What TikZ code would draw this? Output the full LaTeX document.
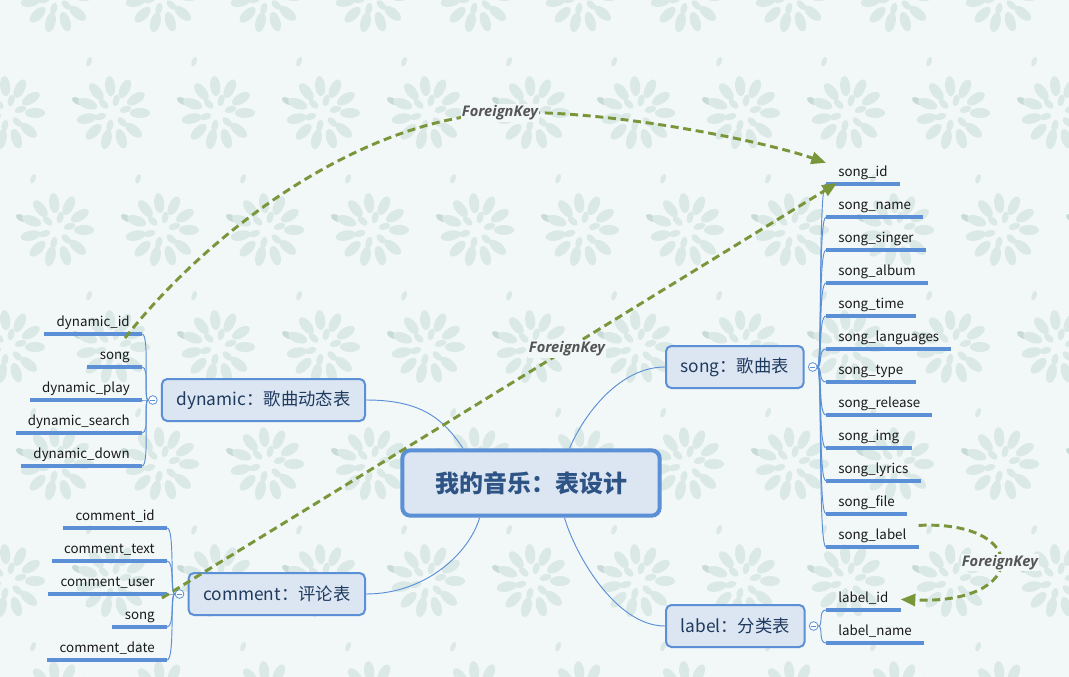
\documentclass[tikz,border=0pt]{standalone}
\usepackage{fontspec}
\setmainfont{Noto Sans CJK SC}
\newfontfamily\keyfont{Open Sans}
\usetikzlibrary{positioning,arrows.meta,calc}
\definecolor{bgcol}{HTML}{F2F7F7}
\definecolor{leaf}{HTML}{DAE8E6}
\definecolor{darkleaf}{HTML}{C9DBD8}
\definecolor{boxfill}{HTML}{DCE6F2}
\definecolor{boxline}{HTML}{5B8FD6}
\definecolor{boxtext}{HTML}{1F3A5F}
\definecolor{roottext}{HTML}{2E5486}
\definecolor{keygreen}{HTML}{7A963A}
\definecolor{keytext}{HTML}{555555}

\tikzset{
    flower/.pic={
        \foreach \a in {0,32,...,330} \fill[leaf, rotate=\a] (27,0) ellipse (10 and 5);
        \foreach \a in {16,76,...,330} \fill[leaf, rotate=\a] (13,0) ellipse (6 and 3.2);
        \fill[darkleaf, rotate=-30] (54,-45) ellipse (6 and 3);
        \fill[leaf, rotate=70] (40,-40) ellipse (5 and 2.5);
    }
}

\begin{document}
\begin{tikzpicture}[x=0.75pt,y=-0.75pt,
        root/.style={draw=boxline, line width=3pt, fill=boxfill, rounded corners=6pt,
            minimum width=193pt, minimum height=49pt, text=roottext,
            font=\fontsize{18}{21}\selectfont\bfseries},
        table/.style={draw=boxline, line width=1.5pt, fill=boxfill, rounded corners=4pt,
            minimum height=31.5pt, inner xsep=11pt, text=boxtext,
            font=\fontsize{13}{16}\selectfont},
        fold/.style={circle, draw=boxline, fill=white, line width=0.6pt, inner sep=0pt,
            minimum size=6.5pt, path picture={\draw[boxline, line width=0.5pt]
            ([xshift=-1.8pt]path picture bounding box.center) --
            ([xshift=1.8pt]path picture bounding box.center);}},
        field/.style={inner xsep=9pt, inner ysep=2.5pt, text height=7.5pt, text depth=3pt,
            text=black!90, font=\fontsize{10}{12}\selectfont},
        uline/.style={draw=boxline, line width=2.3pt},
        branch/.style={draw=boxline, line width=0.7pt},
        fkey/.style={draw=keygreen, line width=2.2pt, dash pattern=on 6pt off 3.5pt,
            -{Triangle[length=11pt,width=9pt]}},
        fklabel/.style={fill=bgcol, inner sep=1pt, text=keytext,
            font=\keyfont\fontsize{11}{13}\selectfont\bfseries\itshape}
    ]
        \path[use as bounding box, fill=bgcol] (0,0) rectangle (1069,677);
        \begin{scope}
            \clip (0,0) rectangle (1069,677);
            \foreach \k in {0,...,6}
                \foreach \n in {-1,...,10}
                    \pic at ({57+56*mod(\k,2)+105*\n},{-4+117*\k}) {flower};
        \end{scope}

        % centre and the four tables
        \node[root] (root) at (531,483) {我的音乐：表设计};
        \node[table, anchor=west] (song) at (665,367) {song：歌曲表};
        \node[table, anchor=west] (label) at (665,626) {label：分类表};
        \node[table, anchor=east] (dyn) at (366,400) {dynamic：歌曲动态表};
        \node[table, anchor=east] (cmt) at (366,594) {comment：评论表};

        \node[fold, right=2.5pt of song] (songf) {};
        \node[fold, right=2.5pt of label] (labelf) {};
        \node[fold, left=2.5pt of dyn] (dynf) {};
        \node[fold, left=2.5pt of cmt] (cmtf) {};

        \draw[branch] (dyn.east) .. controls +(55,0) and +(-20,-30) .. (root.153);
        \draw[branch] (cmt.east) .. controls +(60,0) and +(-10,35) .. (root.214);
        \draw[branch] (song.west) .. controls +(-45,0) and +(15,-35) .. (root.42);
        \draw[branch] (label.west) .. controls +(-50,0) and +(10,35) .. (root.-46);

        % fields
        \foreach \name [count=\i] in {song\_id, song\_name, song\_singer, song\_album,
            song\_time, song\_languages, song\_type, song\_release, song\_img,
            song\_lyrics, song\_file, song\_label} {
            \node[field, anchor=south west] (s\i) at (826,151+33*\i) {\name};
            \draw[uline] (s\i.south west) -- (s\i.south east);
            \draw[branch] (songf.east) .. controls +(5,0) and +(-8,0) .. (s\i.south west);
        }
        \foreach \name [count=\i] in {label\_id, label\_name} {
            \node[field, anchor=south west] (l\i) at (826,577+33*\i) {\name};
            \draw[uline] (l\i.south west) -- (l\i.south east);
            \draw[branch] (labelf.east) .. controls +(5,0) and +(-8,0) .. (l\i.south west);
        }
        \foreach \name [count=\i] in {dynamic\_id, song, dynamic\_play, dynamic\_search,
            dynamic\_down} {
            \node[field, anchor=south east] (d\i) at (142,301+33*\i) {\name};
            \draw[uline] (d\i.south west) -- (d\i.south east);
            \draw[branch] (dynf.west) .. controls +(-5,0) and +(8,0) .. (d\i.south east);
        }
        \foreach \name [count=\i] in {comment\_id, comment\_text, comment\_user, song,
            comment\_date} {
            \node[field, anchor=south east] (c\i) at (167,495+33*\i) {\name};
            \draw[uline] (c\i.south west) -- (c\i.south east);
            \draw[branch] (cmtf.west) .. controls +(-5,0) and +(8,0) .. (c\i.south east);
        }

        % foreign keys
        \coordinate (k1) at (500,113);
        \draw[fkey] ($(d1.south east)+(-17,4)$) .. controls (210,230) and (360,120) .. (k1)
            .. controls (600,108) and (760,140) .. (s1.north west);
        \node[fklabel] (fk1) at (k1) {ForeignKey};
        \draw[fkey] ($(c3.south east)+(-5,4)$) -- node[fklabel, pos=0.6] (fk2) {ForeignKey}
            ($(s1.south west)+(11,-1)$);
        \draw[fkey] ($(s12.east)+(0,-11)$) .. controls (1030,520) and (1030,605) ..
            node[fklabel] (fk3) {ForeignKey} (l1.east);
    \end{tikzpicture}
\end{document}
